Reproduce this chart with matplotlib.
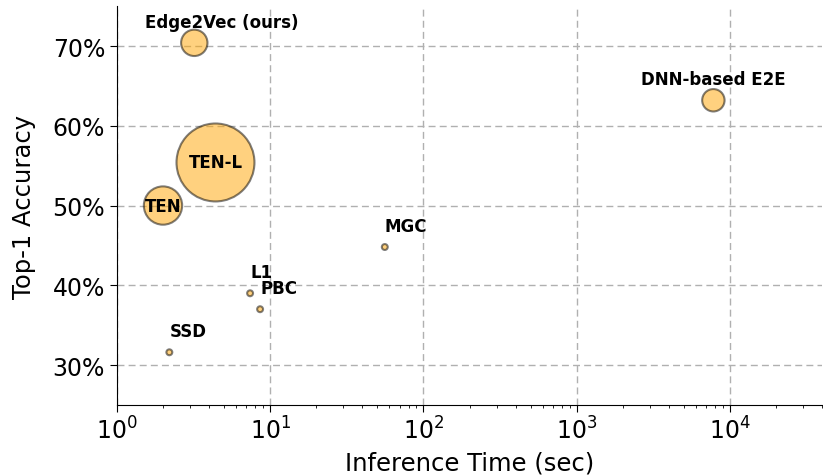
import numpy as np
import matplotlib
matplotlib.use("Agg")
import matplotlib.pyplot as plt
from matplotlib.ticker import PercentFormatter

# methods, inference time (sec), top-1 accuracy (%), bubble size
methods = ["Edge2Vec (ours)", "TEN-L", "TEN", "DNN-based E2E", "MGC", "L1", "PBC", "SSD"]
times = [3.2, 4.4, 2.0, 7800, 56, 7.4, 8.6, 2.2]
accuracy = [70.4, 55.4, 50.0, 63.2, 44.8, 39.0, 37.0, 31.6]
sizes = [360, 3150, 760, 260, 18, 18, 18, 18]

# label placement: offset in points and alignment
offsets = [(20, 15), (0, 0), (0, 0), (0, 15), (0, 15), (0, 15), (0, 15), (0, 15)]
aligns = ["center", "center", "center", "center", "left", "left", "left", "left"]

fig, ax = plt.subplots(figsize=(8.23, 4.77), dpi=100)

ax.scatter(times, accuracy, s=sizes, c="orange", alpha=0.5,
           edgecolors="black", linewidths=1.5, zorder=3)

for name, x, y, off, ha in zip(methods, times, accuracy, offsets, aligns):
    ax.annotate(name, (x, y), xytext=off, textcoords="offset points",
                ha=ha, va="center", fontsize=12, fontweight="bold", zorder=4)

ax.set_xscale("log")
ax.set_xlim(1, 4e4)
ax.set_ylim(25, 75)
ax.set_yticks([30, 40, 50, 60, 70])
ax.yaxis.set_major_formatter(PercentFormatter(decimals=0))

ax.grid(True, linestyle=(0, (5, 3)), color="#b0b0b0", linewidth=1)
ax.set_axisbelow(True)
ax.spines["top"].set_visible(False)
ax.spines["right"].set_visible(False)
ax.tick_params(labelsize=17, length=5)

ax.set_xlabel("Inference Time (sec)", fontsize=17.5, labelpad=5)
ax.set_ylabel("Top-1 Accuracy", fontsize=17.5, labelpad=12)

plt.subplots_adjust(left=0.142, right=0.999, top=0.985, bottom=0.149)
plt.savefig("out.png", dpi=100)
